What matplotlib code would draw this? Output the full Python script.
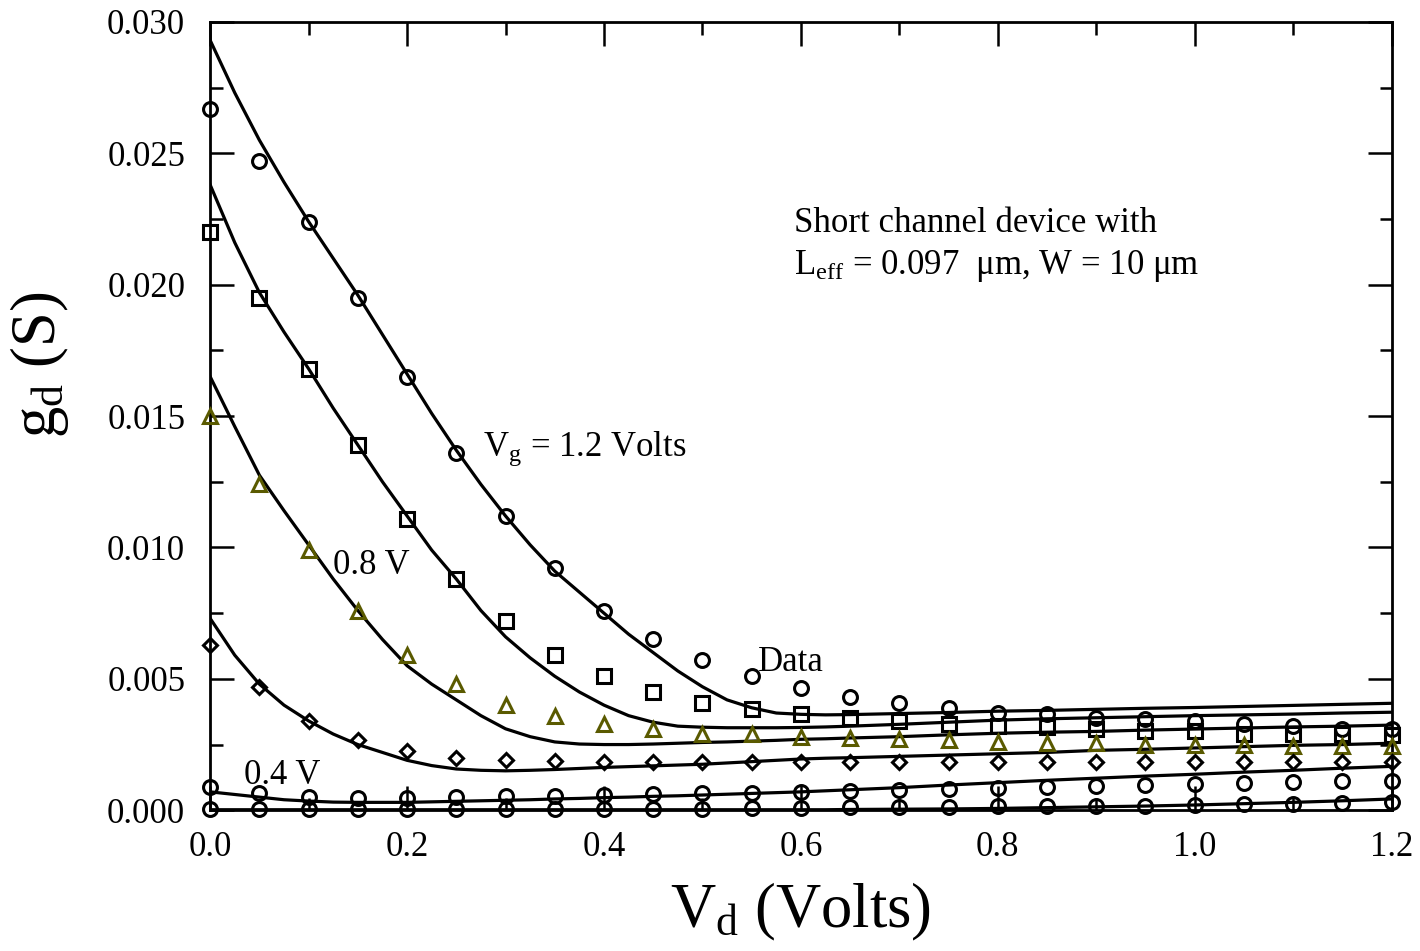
import matplotlib
matplotlib.use("Agg")
from matplotlib import pyplot as plt
from matplotlib.ticker import MultipleLocator

# drain voltage of the measured points
vd = [0.00, 0.05, 0.10, 0.15, 0.20, 0.25, 0.30, 0.35, 0.40, 0.45, 0.50, 0.55, 0.60,
      0.65, 0.70, 0.75, 0.80, 0.85, 0.90, 0.95, 1.00, 1.05, 1.10, 1.15, 1.20]

# measured gd (S)
data_12 = [0.0267, 0.0247, 0.0224, 0.0195, 0.0165, 0.0136, 0.0112, 0.0092, 0.0076, 0.0065,
           0.0057, 0.0051, 0.00464, 0.0043, 0.0041, 0.0039, 0.0037, 0.00365, 0.0035, 0.00346,
           0.0034, 0.0033, 0.0032, 0.0031, 0.0031]
data_10 = [0.0220, 0.0195, 0.0168, 0.0139, 0.0111, 0.0088, 0.0072, 0.0059, 0.0051, 0.0045,
           0.0041, 0.00385, 0.00365, 0.0035, 0.0034, 0.0033, 0.0032, 0.00315, 0.0031, 0.0030,
           0.0030, 0.0029, 0.0029, 0.0029, 0.00285]
data_08 = [0.0150, 0.0124, 0.0099, 0.0076, 0.0059, 0.0048, 0.0040, 0.0036, 0.0033, 0.0031,
           0.0029, 0.0029, 0.0028, 0.00275, 0.0027, 0.00266, 0.0026, 0.00255, 0.00255, 0.0025,
           0.0025, 0.00247, 0.00244, 0.00244, 0.00244]
data_06 = [0.0063, 0.0047, 0.0034, 0.00266, 0.00225, 0.0020, 0.0019, 0.00187, 0.00185, 0.00184,
           0.00183, 0.00183, 0.00183, 0.00183, 0.00183, 0.00183, 0.00183, 0.00183, 0.00183, 0.00183,
           0.00183, 0.00183, 0.00183, 0.00183, 0.00183]
data_04 = [0.0009, 0.00065, 0.0005, 0.00045, 0.00045, 0.0005, 0.00053, 0.00053, 0.00057, 0.0006,
           0.00065, 0.00065, 0.0007, 0.00072, 0.00076, 0.0008, 0.00084, 0.00088, 0.00091, 0.00095,
           0.0010, 0.00103, 0.00107, 0.0011, 0.0011]
data_02 = [0.00003, 0.00004, 0.00004, 0.00005, 0.00005, 0.00005, 0.00005, 0.00005, 0.00005, 0.00005,
           0.00005, 0.00007, 0.0001, 0.00011, 0.00012, 0.00013, 0.00015, 0.00016, 0.00017, 0.00018,
           0.0002, 0.00022, 0.00025, 0.00028, 0.0003]

# drain voltage of the model curve samples
vd_fit = [0.000, 0.025, 0.050, 0.075, 0.100, 0.125, 0.150, 0.175, 0.200, 0.225,
          0.250, 0.275, 0.300, 0.325, 0.350, 0.375, 0.400, 0.425, 0.450, 0.475,
          0.500, 0.525, 0.550, 0.575, 0.600, 0.625, 0.650,
          0.70, 0.75, 0.80, 0.85, 0.90, 0.95, 1.00, 1.05, 1.10, 1.15, 1.20]

# model curves (S)
model_12 = [0.0293, 0.0273, 0.0255, 0.0239, 0.0224, 0.0210, 0.0196, 0.0181, 0.0166, 0.0151,
            0.0137, 0.0124, 0.0112, 0.0101, 0.0091, 0.0083, 0.0075, 0.0067, 0.0060, 0.0053,
            0.0047, 0.0042, 0.0039, 0.0037, 0.00365, 0.00363, 0.00364,
            0.00368, 0.00372, 0.00377, 0.0038, 0.00384, 0.00388, 0.00391, 0.00395, 0.00399, 0.00403, 0.00407]
model_10 = [0.0238, 0.0216, 0.0197, 0.0182, 0.0168, 0.0153, 0.0139, 0.0125, 0.0112, 0.0099,
            0.0088, 0.0076, 0.0066, 0.0058, 0.0051, 0.0045, 0.0040, 0.0036, 0.00335, 0.0032,
            0.00316, 0.00314, 0.00314, 0.00314, 0.00315, 0.00317, 0.0032,
            0.00327, 0.00335, 0.00343, 0.00348, 0.00352, 0.00356, 0.0036, 0.00363, 0.00366, 0.0037, 0.00373]
model_08 = [0.0165, 0.0146, 0.01275, 0.0114, 0.0101, 0.0088, 0.0076, 0.0065, 0.0055, 0.0048,
            0.0042, 0.0036, 0.0031, 0.0028, 0.0026, 0.00252, 0.0025, 0.0025, 0.00252, 0.00255,
            0.00258, 0.0026, 0.00263, 0.00266, 0.0027, 0.00272, 0.00275,
            0.0028, 0.00287, 0.00293, 0.00297, 0.0030, 0.00305, 0.00309, 0.00313, 0.00317, 0.0032, 0.00324]
model_06 = [0.0073, 0.0059, 0.0048, 0.0040, 0.0034, 0.0029, 0.0025, 0.0022, 0.0019, 0.0017,
            0.00157, 0.00152, 0.0015, 0.00152, 0.00155, 0.00159, 0.00163, 0.00166, 0.00169, 0.00172,
            0.00175, 0.0018, 0.00185, 0.0019, 0.00195, 0.00198, 0.0020,
            0.00205, 0.0021, 0.00215, 0.0022, 0.00228, 0.00232, 0.00237, 0.00242, 0.00247, 0.0025, 0.00255]
model_04 = [0.0007, 0.0006, 0.0005, 0.0004, 0.00035, 0.00031, 0.0003, 0.0003, 0.0003, 0.00032,
            0.00034, 0.00036, 0.00038, 0.0004, 0.00043, 0.00045, 0.00048, 0.0005, 0.00053, 0.00055,
            0.00058, 0.00061, 0.00064, 0.00067, 0.0007, 0.00074, 0.00078,
            0.00086, 0.00096, 0.00105, 0.00114, 0.00122, 0.0013, 0.00137, 0.00145, 0.00152, 0.0016, 0.00167]
model_02 = [0.00002, 0.00002, 0.00002, 0.00002, 0.00002, 0.00002, 0.00002, 0.00002, 0.00002, 0.00002,
            0.00002, 0.00002, 0.00002, 0.00002, 0.00002, 0.00002, 0.00002, 0.00002, 0.00002, 0.00002,
            0.00002, 0.00002, 0.00002, 0.00002, 0.00002, 0.00002, 0.00003,
            0.00004, 0.00005, 0.00007, 0.0001, 0.00013, 0.00016, 0.0002, 0.00025, 0.0003, 0.00036, 0.00043]

plt.rcParams["font.family"] = "Liberation Serif"
plt.rcParams["mathtext.fontset"] = "custom"
plt.rcParams["mathtext.rm"] = "Liberation Serif"
plt.rcParams["mathtext.it"] = "Liberation Serif:italic"
plt.rcParams["mathtext.bf"] = "Liberation Serif:bold"

fig = plt.figure(figsize=(14.2, 9.51), dpi=100)
ax = fig.add_axes([0.148, 0.148, 0.832, 0.829])

olive = "#5a5a00"
lw = 2.3

# model curves
for m in [model_12, model_10, model_08, model_06, model_04, model_02]:
    ax.plot(vd_fit, m, color="black", lw=lw, zorder=2, solid_joinstyle="round")

# data points
mk = dict(linestyle="none", markerfacecolor="none", markeredgewidth=2.2, zorder=3, clip_on=False)
ax.plot(vd, data_12, marker="o", markersize=10, markeredgecolor="black", **mk)
ax.plot(vd, data_10, marker="s", markersize=9.5, markeredgecolor="black", **mk)
ax.plot(vd, data_08, marker="^", markersize=9.5, markeredgecolor=olive, **mk)
ax.plot(vd, data_06, marker="D", markersize=7.5, markeredgecolor="black", **mk)
ax.plot(vd, data_04, marker="o", markersize=10, markeredgecolor="black", **mk)
ax.plot(vd, data_02, marker="o", markersize=10, markeredgecolor="black", **mk)

ax.set_xlim(0, 1.2)
ax.set_ylim(0, 0.030)
ax.xaxis.set_major_locator(MultipleLocator(0.2))
ax.xaxis.set_minor_locator(MultipleLocator(0.1))
ax.yaxis.set_major_locator(MultipleLocator(0.005))
ax.yaxis.set_minor_locator(MultipleLocator(0.0025))
ax.xaxis.set_major_formatter(plt.FormatStrFormatter("%.1f"))
ax.yaxis.set_major_formatter(plt.FormatStrFormatter("%.3f"))
ax.tick_params(which="both", direction="in", top=True, right=True, width=1.8)
ax.tick_params(which="major", length=17, labelsize=25)
ax.tick_params(which="minor", length=9)
ax.tick_params(axis="y", which="major", pad=18)
ax.tick_params(axis="x", which="major", pad=15)
for s in ax.spines.values():
    s.set_linewidth(2.0)

ax.set_xlabel(r"V$_\mathregular{d}$ (Volts)", fontsize=45, labelpad=12)
ax.set_ylabel(r"g$_\mathregular{d}$ (S)", fontsize=45)
ax.yaxis.set_label_coords(-0.118, 0.565)

ax.text(0.593, 0.0220, "Short channel device with", fontsize=25)
ax.text(0.593, 0.0204, "L$_\\mathregular{eff}$ = 0.097  μm, W = 10 μm", fontsize=25)
ax.text(0.277, 0.0135, "V$_\\mathregular{g}$ = 1.2 Volts", fontsize=25)
ax.text(0.125, 0.0090, "0.8 V", fontsize=25)
ax.text(0.034, 0.0010, "0.4 V", fontsize=25)
ax.text(0.556, 0.0053, "Data", fontsize=25)

fig.savefig("out.png", dpi=100)
